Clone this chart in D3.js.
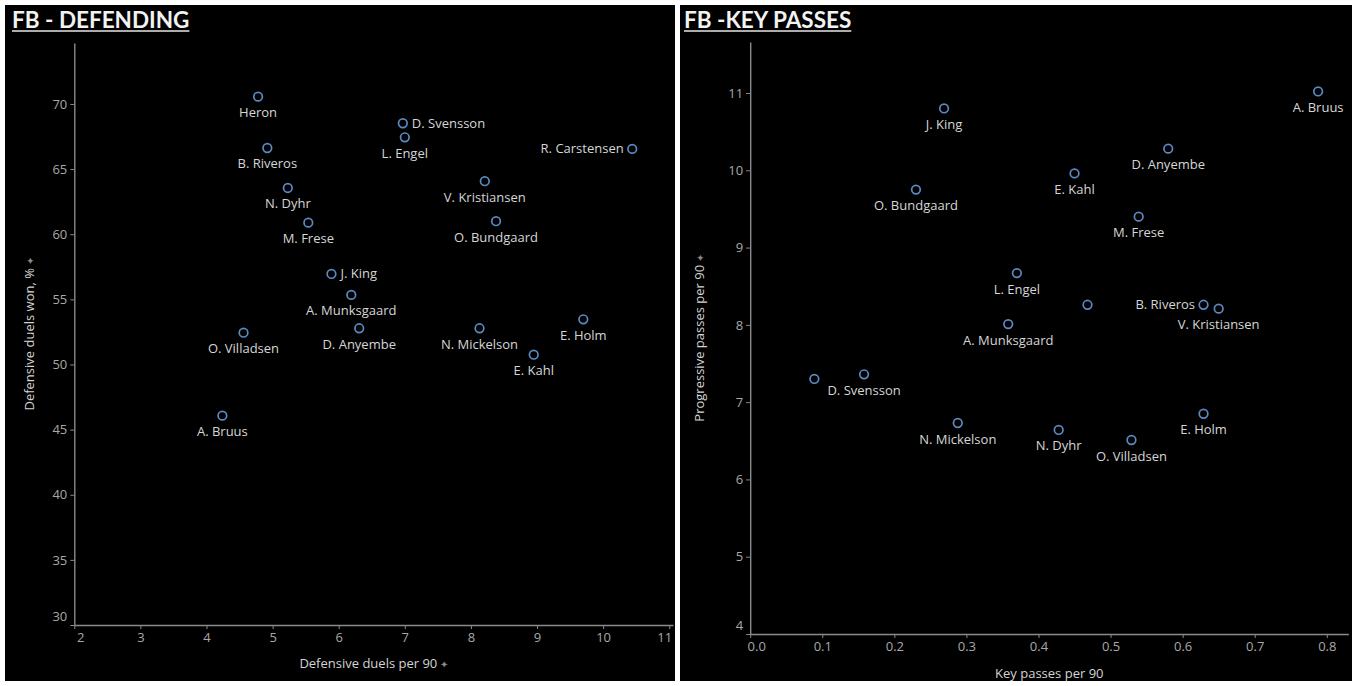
<!DOCTYPE html>
<html>
<head>
<meta charset="utf-8">
<script src="https://cdn.jsdelivr.net/npm/d3@7"></script>
<style>
  body { margin: 0; background: #fff; }
  text { font-family: 'Open Sans', sans-serif; }
</style>
</head>
<body>
<div id="chart"></div>
<script>
// ---- FB - DEFENDING ----
const defPlayers = ['Heron', 'D. Svensson', 'L. Engel', 'R. Carstensen', 'B. Riveros', 'V. Kristiansen',
  'N. Dyhr', 'M. Frese', 'O. Bundgaard', 'J. King', 'A. Munksgaard', 'D. Anyembe', 'O. Villadsen',
  'N. Mickelson', 'E. Holm', 'E. Kahl', 'A. Bruus'];
const defDuelsPer90 = [4.78, 6.97, 7.0, 10.44, 4.92, 8.21, 5.23, 5.54, 8.38, 5.89, 6.19, 6.31, 4.56, 8.13, 9.7, 8.95, 4.24];
const defDuelsWon = [70.56, 68.52, 67.44, 66.55, 66.62, 64.07, 63.55, 60.89, 61.0, 56.95, 55.34, 52.78, 52.44, 52.78, 53.47, 50.75, 46.07];
const defXTicks = [2, 3, 4, 5, 6, 7, 8, 9, 10, 11];
const defYTicks = [30, 35, 40, 45, 50, 55, 60, 65, 70];

// ---- FB - KEY PASSES ---- (two points carry no label in the source)
const kpPlayers = ['A. Bruus', 'J. King', 'D. Anyembe', 'E. Kahl', 'O. Bundgaard', 'M. Frese', 'L. Engel', '',
  'B. Riveros', 'V. Kristiansen', 'A. Munksgaard', '', 'D. Svensson', 'N. Mickelson', 'N. Dyhr',
  'O. Villadsen', 'E. Holm'];
const keyPassesPer90 = [0.788, 0.269, 0.58, 0.45, 0.23, 0.539, 0.37, 0.468, 0.629, 0.65, 0.358, 0.089, 0.158, 0.288, 0.428, 0.529, 0.629];
const progPassesPer90 = [11.02, 10.8, 10.28, 9.96, 9.75, 9.4, 8.67, 8.26, 8.26, 8.21, 8.01, 7.3, 7.36, 6.73, 6.64, 6.51, 6.85];
const kpXTicks = [0, 0.1, 0.2, 0.3, 0.4, 0.5, 0.6, 0.7, 0.8];
const kpYTicks = [4, 5, 6, 7, 8, 9, 10, 11];

const width = 1356;
const height = 686;

const svg = d3.select('#chart').append('svg')
  .attr('width', width).attr('height', height);

function drawScatter(cfg) {
  const g = svg.append('g');

  g.append('rect')
    .attr('x', cfg.left).attr('y', 5)
    .attr('width', cfg.width).attr('height', 676)
    .attr('fill', '#000');

  // title with underline
  const title = g.append('text')
    .attr('x', cfg.left + cfg.titleDx).attr('y', 28)
    .attr('fill', '#f2f2f2')
    .style('font-family', 'Lato, sans-serif')
    .style('font-weight', 700)
    .style('font-size', '22.5px')
    .text(cfg.title);
  const tw = title.node().getComputedTextLength();
  g.append('line')
    .attr('x1', cfg.left + cfg.titleDx).attr('x2', cfg.left + cfg.titleDx + tw)
    .attr('y1', 31).attr('y2', 31)
    .attr('stroke', '#e6e6e6').attr('stroke-width', 1.3);

  const x = d3.scaleLinear().domain(cfg.xDomain).range(cfg.xRange);
  const y = d3.scaleLinear().domain(cfg.yDomain).range(cfg.yRange);

  const xAxis = g.append('g')
    .attr('transform', `translate(0,${cfg.yRange[0]})`)
    .call(d3.axisBottom(x).tickValues(cfg.xTicks).tickSize(4).tickSizeOuter(0)
      .tickPadding(4).tickFormat(cfg.xFormat));
  const yAxis = g.append('g')
    .attr('transform', `translate(${cfg.xRange[0]},0)`)
    .call(d3.axisLeft(y).tickValues(cfg.yTicks).tickSize(4).tickSizeOuter(0)
      .tickPadding(3).tickFormat(d3.format('d')));

  [xAxis, yAxis].forEach(a => {
    a.select('.domain').attr('stroke', '#8a8a8a').attr('stroke-width', 1.4);
    a.selectAll('.tick line').attr('stroke', '#8a8a8a');
    a.selectAll('.tick text').attr('fill', '#a8a8a8').style('font-size', '13px');
  });
  // end labels nudged inward, the way the source tool does it
  xAxis.selectAll('.tick text').filter((d, i) => i === 0).attr('dx', 6);
  yAxis.selectAll('.tick text').filter((d, i) => i === 0).attr('dy', '-0.35em');
  if (cfg.nudgeLastX) {
    xAxis.selectAll('.tick text').filter((d, i) => i === cfg.xTicks.length - 1).attr('dx', -5);
  }

  // axis titles
  const xt = g.append('text')
    .attr('x', (cfg.xRange[0] + cfg.xRange[1]) / 2).attr('y', cfg.xTitleY)
    .attr('text-anchor', 'middle')
    .attr('fill', '#d4d4d4').style('font-size', '13px')
    .text(cfg.xTitle);
  if (cfg.xPin) xt.append('tspan').attr('fill', '#8a8a8a').style('font-size', '10px').text(' \u2726');

  const yt = g.append('text')
    .attr('transform', `translate(${cfg.yTitleX},${(cfg.yRange[0] + cfg.yRange[1]) / 2}) rotate(-90)`)
    .attr('text-anchor', 'middle')
    .attr('fill', '#d4d4d4').style('font-size', '13px')
    .text(cfg.yTitle);
  yt.append('tspan').attr('fill', '#8a8a8a').style('font-size', '10px').text(' \u2726');

  const points = cfg.names.map((name, i) => ({ name, xv: cfg.xs[i], yv: cfg.ys[i] }));

  g.append('g').selectAll('circle')
    .data(points)
    .enter()
    .append('circle')
    .attr('cx', d => x(d.xv))
    .attr('cy', d => y(d.yv))
    .attr('r', 4.3)
    .attr('fill', 'none')
    .attr('stroke', '#5a8ac2')
    .attr('stroke-width', 1.7);

  g.append('g').selectAll('text')
    .data(points.filter(d => d.name !== ''))
    .enter()
    .append('text')
    .attr('x', d => {
      const side = cfg.labelSide[d.name];
      if (side === 'right') return x(d.xv) + 9;
      if (side === 'left') return x(d.xv) - 8.5;
      return x(d.xv);
    })
    .attr('y', d => {
      const side = cfg.labelSide[d.name];
      return side ? y(d.yv) + 4.5 : y(d.yv) + 20.5;
    })
    .attr('text-anchor', d => {
      const side = cfg.labelSide[d.name];
      return side === 'right' ? 'start' : side === 'left' ? 'end' : 'middle';
    })
    .attr('fill', '#d6d6d6')
    .style('font-size', '13px')
    .text(d => d.name);
}

drawScatter({
  left: 5, width: 670,
  title: 'FB - DEFENDING', titleDx: 7,
  names: defPlayers, xs: defDuelsPer90, ys: defDuelsWon,
  xDomain: [2, 11.057], xRange: [74.3, 673],
  yDomain: [30, 74.68], yRange: [625, 43],
  xTicks: defXTicks, yTicks: defYTicks,
  xFormat: d3.format('d'), nudgeLastX: true,
  xTitle: 'Defensive duels per 90', xPin: true, xTitleY: 668,
  yTitle: 'Defensive duels won, %', yTitleX: 34,
  labelSide: { 'D. Svensson': 'right', 'J. King': 'right', 'R. Carstensen': 'left' }
});

drawScatter({
  left: 680, width: 672,
  title: 'FB -KEY PASSES', titleDx: 4,
  names: kpPlayers, xs: keyPassesPer90, ys: progPassesPer90,
  xDomain: [0, 0.83], xRange: [750.2, 1348.4],
  yDomain: [4, 11.66], yRange: [634, 42],
  xTicks: kpXTicks, yTicks: kpYTicks,
  xFormat: d3.format('.1f'), nudgeLastX: false,
  xTitle: 'Key passes per 90', xPin: false, xTitleY: 678,
  yTitle: 'Progressive passes per 90', yTitleX: 704,
  labelSide: { 'B. Riveros': 'left' }
});
</script>
</body>
</html>
